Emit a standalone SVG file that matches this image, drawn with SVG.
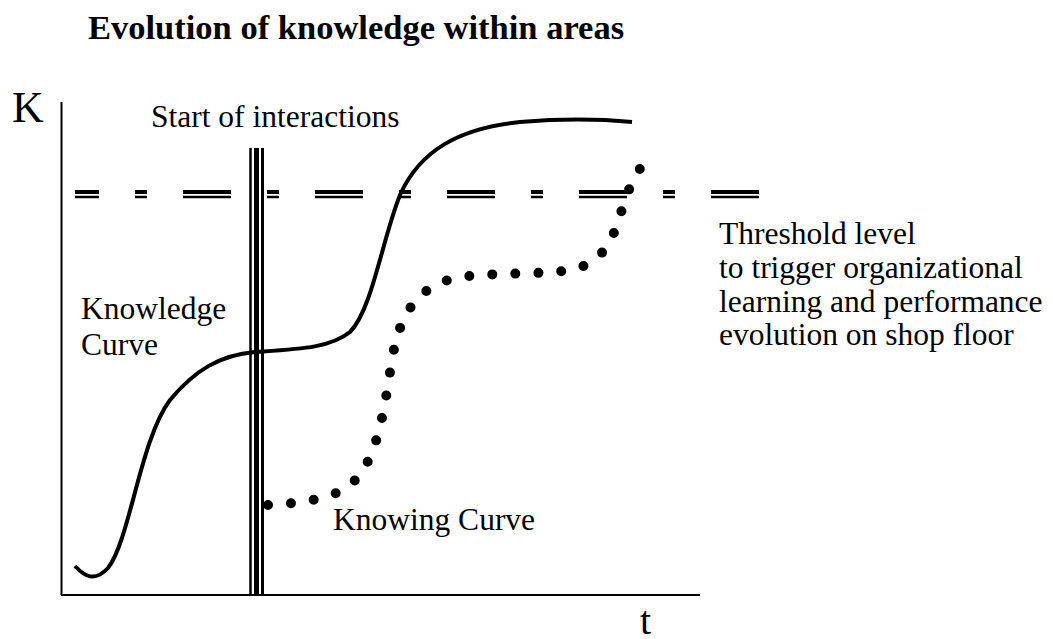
<svg xmlns="http://www.w3.org/2000/svg" width="1053" height="639" viewBox="0 0 1053 639">
<style>
text{font-family:"Liberation Serif","Times New Roman",serif;fill:#000}
.lbl{font-size:31.5px}
.ax{stroke:#000;stroke-width:2;fill:none}
.thr{stroke:#000;fill:none;stroke-dasharray:48 36 12 36;stroke-dashoffset:24}
.vl{stroke:#000;fill:none}
</style>
<rect width="1053" height="639" fill="#fff"/>
<g id="title"><text x="88" y="39" font-size="34.5" font-weight="bold">Evolution of knowledge within areas</text></g>
<g id="axes">
<line class="ax" x1="61.5" y1="102" x2="61.5" y2="595"/>
<line class="ax" x1="61" y1="595" x2="700" y2="595"/>
<text x="12" y="122" font-size="44">K</text>
<text x="640" y="634" font-size="40">t</text>
</g>
<g id="threshold">
<line class="thr" x1="75" y1="192" x2="759" y2="192" stroke-width="4"/>
<line class="thr" x1="75" y1="197" x2="759" y2="197" stroke-width="2.5"/>
<text class="lbl" x="719" y="244">Threshold level</text>
<text class="lbl" x="719" y="278">to trigger organizational</text>
<text class="lbl" x="719" y="311.5">learning and performance</text>
<text class="lbl" x="719" y="345">evolution on shop floor</text>
</g>
<g id="interactions">
<line class="vl" x1="250.5" y1="148" x2="250.5" y2="595" stroke-width="2.5"/>
<line class="vl" x1="256.5" y1="148" x2="256.5" y2="595" stroke-width="5"/>
<line class="vl" x1="262.5" y1="148" x2="262.5" y2="595" stroke-width="3"/>
<text class="lbl" x="151" y="127">Start of interactions</text>
</g>
<g id="knowledge">
<path d="M75,566 C85,577 95,582 108,568 C130,540 140,440 170,400 C195,370 220,355 255,352 C300,349 330,348 350,332 C372,310 382,240 400,195 C420,150 460,128 520,122 C570,118 610,120 632,122" fill="none" stroke="#000" stroke-width="4"/>
<text class="lbl" x="81" y="319">Knowledge</text>
<text class="lbl" x="81" y="355">Curve</text>
</g>
<g id="knowing">
<path d="M268,505 C300,503 330,500 350,485 C380,460 385,400 392,360 C400,310 420,285 460,277 C500,272 540,275 570,270 C610,262 615,230 625,200 C632,180 640,168 645,162" fill="none" stroke="#000" stroke-width="10" stroke-linecap="round" stroke-dasharray="0 23"/>
<text class="lbl" x="333" y="530">Knowing Curve</text>
</g>
</svg>
